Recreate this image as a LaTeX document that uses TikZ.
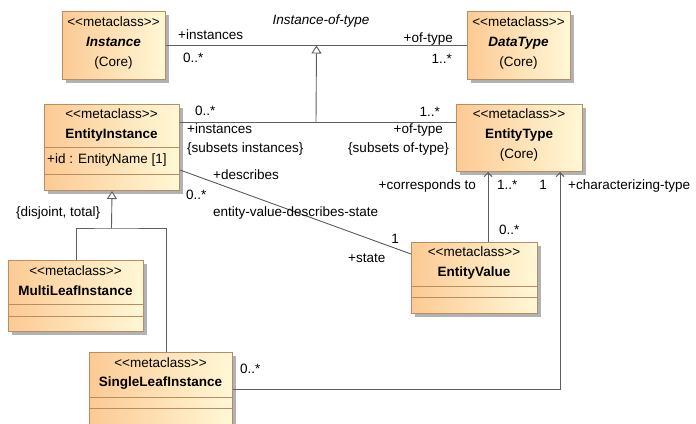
\documentclass[tikz,border=0pt]{standalone}
\usepackage{fontspec}
\setmainfont{Liberation Sans}
\usetikzlibrary{arrows.meta,shadows,calc}
\definecolor{boxborder}{RGB}{186,140,100}
\definecolor{boxleft}{RGB}{252,202,148}
\definecolor{boxright}{RGB}{255,248,214}
\definecolor{lnc}{RGB}{95,95,95}
\newcommand{\mcls}{<\kern0pt<metaclass>\kern0pt>}
\begin{document}
\begin{tikzpicture}[x=1pt,y=-1pt,
  font=\fontsize{13.5pt}{16pt}\selectfont,
  umlbox/.style={draw=boxborder, line width=1pt, left color=boxleft, right color=boxright,
    drop shadow={shadow xshift=3pt, shadow yshift=-3pt, fill=black!30, opacity=1},
    anchor=north west, inner sep=0pt},
  comp/.style={draw=boxborder, line width=1pt},
  lbl/.style={inner sep=0pt, text height=9.7pt, text depth=2.6pt},
  assoc/.style={draw=lnc, line width=0.9pt},
  gen/.style={draw=lnc, line width=0.9pt, -{Triangle[open, fill=white, length=8pt, width=10pt]}},
  nav/.style={draw=lnc, line width=0.9pt, -{Straight Barb[length=4pt, width=8pt]}}
]
\path[use as bounding box, clip] (0,0) rectangle (696,423);
\fill[white] (0,0) rectangle (696,423);

% ---- boxes
\node[umlbox, minimum width=103pt, minimum height=68pt] (inst) at (62,11) {};
\node[umlbox, minimum width=103pt, minimum height=68pt] (dt) at (467,11) {};
\node[umlbox, minimum width=135pt, minimum height=86pt] (ei) at (44,104) {};
\node[umlbox, minimum width=126pt, minimum height=67pt] (et) at (456,104) {};
\node[umlbox, minimum width=126pt, minimum height=71pt] (ev) at (411,242) {};
\node[umlbox, minimum width=135pt, minimum height=71pt] (ml) at (8,260) {};
\node[umlbox, minimum width=143pt, minimum height=74pt] (sl) at (89,352) {};

% compartments
\draw[comp] ($(ei.north west)+(0,43)$) -- ($(ei.north east)+(0,43)$);
\draw[comp] ($(ei.north west)+(0,70)$) -- ($(ei.north east)+(0,70)$);
\draw[comp] ($(ev.north west)+(0,44)$) -- ($(ev.north east)+(0,44)$);
\draw[comp] ($(ev.north west)+(0,55)$) -- ($(ev.north east)+(0,55)$);
\draw[comp] ($(ml.north west)+(0,44)$) -- ($(ml.north east)+(0,44)$);
\draw[comp] ($(ml.north west)+(0,56)$) -- ($(ml.north east)+(0,56)$);
\draw[comp] ($(sl.north west)+(0,45)$) -- ($(sl.north east)+(0,45)$);
\draw[comp] ($(sl.north west)+(0,56)$) -- ($(sl.north east)+(0,56)$);

% box texts
\node[lbl] (instS) at (113.5,23) {\mcls};
\node[lbl] (instN) at (113.5,43) {\bfseries\itshape Instance};
\node[lbl] (instC) at (113.5,63) {(Core)};
\node[lbl] (dtS) at (518.5,23) {\mcls};
\node[lbl] (dtN) at (518.5,43) {\bfseries\itshape DataType};
\node[lbl] (dtC) at (518.5,63) {(Core)};
\node[lbl] (eiS) at (111.5,115) {\mcls};
\node[lbl] (eiN) at (111.5,135) {\bfseries EntityInstance};
\node[lbl, anchor=west] (eiA) at (47,160) {+id : EntityName [1]};
\node[lbl] (etS) at (519,115) {\mcls};
\node[lbl] (etN) at (519,135) {\bfseries EntityType};
\node[lbl] (etC) at (519,155) {(Core)};
\node[lbl] (evS) at (474,253) {\mcls};
\node[lbl] (evN) at (474,273) {\bfseries EntityValue};
\node[lbl] (mlS) at (75.5,272) {\mcls};
\node[lbl] (mlN) at (75.5,292) {\bfseries MultiLeafInstance};
\node[lbl] (slS) at (160.5,364) {\mcls};
\node[lbl] (slN) at (160.5,383) {\bfseries SingleLeafInstance};

% ---- connectors
\draw[assoc] (inst.east) -- (dt.west);
\coordinate (gA) at ($(inst.east)!0.5!(dt.west)$);
\coordinate (gB) at (316,122);
\draw[assoc] (gB -| ei.east) -- (gB -| et.west);
\draw[gen] (gB) -- (gA);

\draw[assoc] ($(ei.north east)+(0,66)$) -- ($(ev.north west)+(0,12)$);

\coordinate (evt) at ($(ev.north west)+(77,0)$);
\draw[nav] (evt) -- (evt |- et.south);
\coordinate (slr) at ($(sl.north east)+(0,37)$);
\draw[nav] (slr) -| ($(et.south east)+(-23,0)$);

\coordinate (gj) at (111.5,228);
\draw[assoc] (ml.north) |- (gj) -| ($(sl.north west)+(77,0)$);
\draw[gen] (gj) -- (ei.south);

% ---- labels
\node[lbl] (l1) at (321,21) {\itshape Instance-of-type};
\node[lbl, anchor=west] (l2) at (178,36) {+instances};
\node[lbl, anchor=west] (l3) at (183,59) {0..*};
\node[lbl, anchor=east] (l4) at (453,39) {+of-type};
\node[lbl, anchor=east] (l5) at (452,60) {1..*};

\node[lbl, anchor=west] (l6) at (195,112) {0..*};
\node[lbl, anchor=west] (l7) at (187,130) {+instances};
\node[lbl, anchor=west] (l8) at (187,149) {\{subsets instances\}};
\node[lbl, anchor=east] (l9) at (440,113) {1..*};
\node[lbl, anchor=east] (l10) at (443,130) {+of-type};
\node[lbl, anchor=east] (l11) at (449,149) {\{subsets of-type\}};

\node[lbl, anchor=west] (l12) at (213,176) {+describes};
\node[lbl, anchor=west] (l13) at (186,196) {0..*};
\node[lbl, anchor=west] (l14) at (213,213) {entity-value-describes-state};
\node[lbl] (l15) at (395,240) {1};
\node[lbl, anchor=west] (l16) at (348,259) {+state};

\node[lbl, anchor=east] (l17) at (476,186) {+corresponds to};
\node[lbl, anchor=west] (l18) at (497,186) {1..*};
\node[lbl, anchor=west] (l19) at (499,231) {0..*};
\node[lbl] (l20) at (543,186) {1};
\node[lbl, anchor=west] (l21) at (568,186) {+characterizing-type};
\node[lbl, anchor=west] (l22) at (240,370) {0..*};
\node[lbl, anchor=west] (l23) at (16,213) {\{disjoint, total\}};
\end{tikzpicture}
\end{document}
